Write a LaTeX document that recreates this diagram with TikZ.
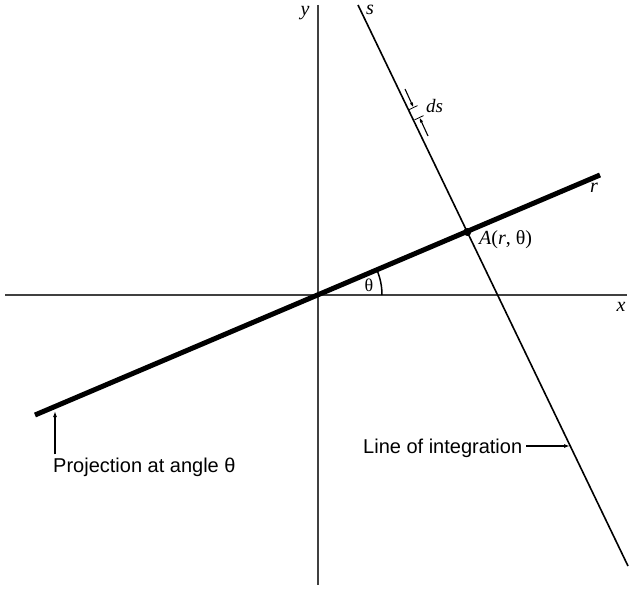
\documentclass[tikz,border=0pt]{standalone}
\usepackage{fontspec}
\setmainfont{Liberation Serif}
\newfontfamily\labsans{Liberation Sans}
\usetikzlibrary{arrows.meta}
\tikzset{
  axisline/.style={draw=black!75, line width=2pt},
  projline/.style={draw=black, line width=5pt},
  intline/.style={draw=black, line width=1.6pt},
  thinarrow/.style={draw=black, line width=1.2pt, -{Latex[length=6pt,width=4pt]}},
  dsarrow/.style={draw=black, line width=1.1pt, -{Latex[length=5pt,width=3.5pt]}},
  serlab/.style={inner sep=0pt, font=\fontsize{20}{24}\selectfont},
  sanslab/.style={inner sep=0pt, font=\labsans\fontsize{20}{24}\selectfont},
}
\begin{document}
\begin{tikzpicture}[x=1pt,y=-1pt]
\useasboundingbox[fill=white] (0,0) rectangle (629,591);
% coordinates
\coordinate (O) at (318,295);
\coordinate (XL) at (5,295);
\coordinate (XR) at (627,295);
\coordinate (YT) at (318,5);
\coordinate (YB) at (318,585);
\coordinate (P1) at (35,415);
\coordinate (P2) at (600,175);
\coordinate (S1) at (358,5);
\coordinate (S2) at (628,566);
\coordinate (A) at (467.3,232);
% axes
\draw[axisline] (XL) -- (XR);
\draw[axisline] (YT) -- (YB);
% projection line
\draw[projline] (P1) -- (P2);
% line of integration
\draw[intline] (S1) -- (S2);
% point A
\fill (A) circle (4pt);
% angle arc (y axis points down, so the angle is negative)
\draw[line width=1.5pt] (O) ++(0:64) arc[start angle=0,end angle=-23,radius=64];
% ds markers
\coordinate (d1s) at (405,89);
\coordinate (d1e) at (413.5,107.5);
\coordinate (d2s) at (428,136);
\coordinate (d2e) at (419.5,117.5);
\draw[dsarrow] (d1s) -- (d1e);
\draw[dsarrow] (d2s) -- (d2e);
\draw[line width=0.8pt] (d1e) ++(-5,2.4) -- ++(9,-4.3);
\draw[line width=0.8pt] (d2e) ++(-5,2.4) -- ++(9,-4.3);
% labels
\node[serlab] (ylab) at (305,13) {\textit{y}};
\node[serlab] (slab) at (370,10) {\textit{s}};
\node[serlab] (xlab) at (621,307) {\textit{x}};
\node[serlab] (rlab) at (594,188) {\textit{r}};
\node[serlab, anchor=base west, font=\fontsize{19}{22}\selectfont] (dslab) at (426,113) {\textit{ds}};
\node[serlab, anchor=base west] (Alab) at (479,244) {\textit{A}(\textit{r}, θ)};
\node[serlab, font=\fontsize{18}{20}\selectfont] (thlab) at (369,285) {θ};
\node[sanslab, anchor=base west] (projlab) at (53,472) {Projection at angle θ};
\node[sanslab, anchor=base west] (intlab) at (363,453) {Line of integration};
% label arrows
\coordinate (ptip) at (55,411);
\draw[thinarrow] (projlab.north west -| ptip) ++(0,-3) -- (ptip);
\coordinate (itip) at (570,446);
\draw[thinarrow] (intlab.east |- itip) ++(4,0) -- (itip);
\end{tikzpicture}
\end{document}
